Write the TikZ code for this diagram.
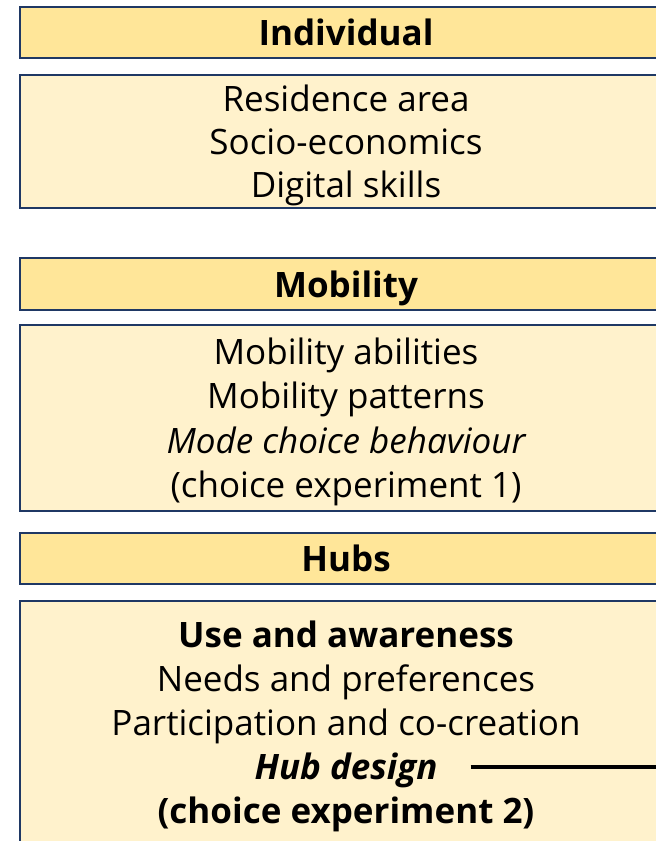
\documentclass[tikz,border=0pt]{standalone}
\usepackage{fontspec}
\setmainfont{Open Sans}
\usepackage{tikz,xcolor}

\definecolor{navy}{HTML}{1F3864}
\definecolor{hdrfill}{HTML}{FFE699}
\definecolor{bodyfill}{HTML}{FFF2CC}

\begin{document}
\begin{tikzpicture}[x=1pt, y=-1pt,
  box/.style={draw=navy, line width=2.6pt, minimum width=652pt, inner sep=0pt},
  hdr/.style={box, fill=hdrfill, font=\fontsize{35}{42}\selectfont\bfseries, text height=26pt, text depth=0pt},
  body/.style={box, fill=bodyfill},
  txt/.style={font=\fontsize{35}{42}\selectfont, inner sep=0pt, anchor=base},
  link/.style={line width=4.2pt}]

\useasboundingbox (0,0) rectangle (656,841);
\clip (0,0) rectangle (656,841);

% 定义框
\node[hdr, minimum height=51pt] (indh) at (346, 32.5) {Individual};
\node[body, minimum height=133pt] (indb) at (346, 141.5) {};
\node[hdr, minimum height=52pt] (mobh) at (346, 284) {Mobility};
\node[body, minimum height=186pt] (mobb) at (346, 418) {};
\node[hdr, minimum height=51pt] (hubh) at (346, 558.5) {Hubs};
\node[body, minimum height=244pt] (hubb) at (346, 723) {};

% 定义文字
\node[txt] (res) at (346, 111) {Residence area};
\node[txt] (soc) at (346, 154) {Socio-economics};
\node[txt] (dig) at (346, 197) {Digital skills};

\node[txt] (mab) at (346, 364) {Mobility abilities};
\node[txt] (mpa) at (346, 408.5) {Mobility patterns};
\node[txt] (mcb) at (346, 453) {\itshape Mode choice behaviour};
\node[txt] (ce1) at (346, 497) {(choice experiment 1)};

\node[txt] (use) at (346, 647) {\bfseries Use and awareness};
\node[txt] (nee) at (346, 691) {Needs and preferences};
\node[txt] (par) at (346, 735) {Participation and co-creation};
\node[txt] (hd) at (346, 779) {\bfseries\itshape Hub design};
\node[txt] (ce2) at (346, 823) {\bfseries (choice experiment 2)};

% 连接
\coordinate (out) at (690, 767);
\draw[link] ([xshift=33pt]hd.east |- out) -- (out);

\end{tikzpicture}
\end{document}
